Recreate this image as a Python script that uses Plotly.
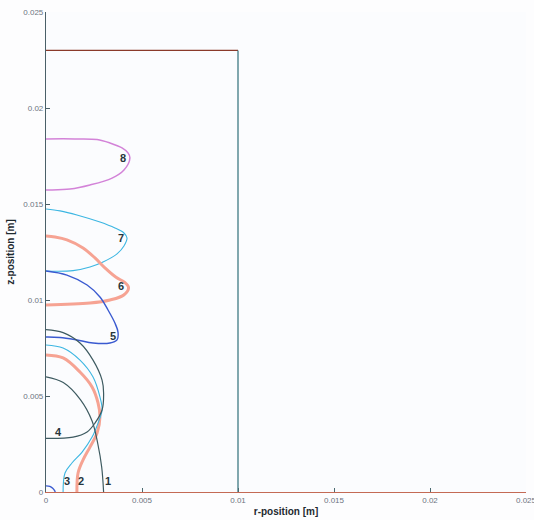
import plotly.graph_objects as go

# Container outline
box_r = [0, 0.01, 0.01]
box_z = [0.023, 0.023, 0]

# Interface curves (r, z) in metres
c1_r = [0, 0.0009, 0.0018, 0.0024, 0.0027, 0.0029, 0.0030]
c1_z = [0.0060, 0.0057, 0.0048, 0.0037, 0.0025, 0.0013, 0.0]

c2_r = [0, 0.00089, 0.00177, 0.0024, 0.00271, 0.00281, 0.00266, 0.00229, 0.00193, 0.00167, 0.00161]
c2_z = [0.00714, 0.00698, 0.00625, 0.00547, 0.00464, 0.00391, 0.00307, 0.00234, 0.00167, 0.00099, 0.0]

c3_r = [0, 0.00089, 0.00177, 0.00245, 0.00281, 0.00292, 0.00271, 0.0024, 0.00188, 0.00135, 0.00099, 0.00089]
c3_z = [0.00766, 0.0075, 0.00687, 0.00599, 0.00495, 0.00427, 0.00359, 0.00286, 0.00208, 0.00151, 0.00099, 0.0]

c4_r = [0, 0.00089, 0.00177, 0.00245, 0.00292, 0.0030, 0.00292, 0.00255, 0.00214, 0.00141, 0]
c4_z = [0.00846, 0.00830, 0.00776, 0.00687, 0.00583, 0.00516, 0.00427, 0.00359, 0.00313, 0.00286, 0.00279]

c5_r = [0, 0.00109, 0.00214, 0.00281, 0.00323, 0.00359, 0.00375, 0.0037, 0.00333, 0.00245, 0.00161, 0.00073, 0]
c5_z = [0.01151, 0.0113, 0.01078, 0.01016, 0.00948, 0.0088, 0.00833, 0.00792, 0.00776, 0.00776, 0.00792, 0.00805, 0.00807]

c6_r = [0, 0.00047, 0.00109, 0.00193, 0.00255, 0.00307, 0.00365, 0.00410, 0.00430, 0.00405, 0.00333, 0.00229, 0]
c6_z = [0.01333, 0.01328, 0.01313, 0.01271, 0.01219, 0.01167, 0.01118, 0.01092, 0.01065, 0.01026, 0.0100, 0.00984, 0.00974]

c7_r = [0, 0.00073, 0.00161, 0.00281, 0.00359, 0.00406, 0.00422, 0.00406, 0.0037, 0.00297, 0.00229, 0.00141, 0]
c7_z = [0.01474, 0.01464, 0.01443, 0.01406, 0.01375, 0.01349, 0.01323, 0.01281, 0.0124, 0.01198, 0.01172, 0.01153, 0.01151]

c8_r = [0, 0.0015, 0.00266, 0.00333, 0.00396, 0.00427, 0.00437, 0.00406, 0.00344, 0.00229, 0.00125, 0.0002, 0]
c8_z = [0.01839, 0.01839, 0.01836, 0.01818, 0.01792, 0.01766, 0.0174, 0.01677, 0.01635, 0.01599, 0.01578, 0.01573, 0.01573]

arc_r = [0, 0.0002, 0.00035, 0.00045, 0.00048]
arc_z = [0.00032, 0.00029, 0.00019, 0.00007, 0.0]

labels = ["1", "2", "3", "4", "5", "6", "7", "8"]
label_r = [0.00325, 0.00180, 0.00110, 0.00065, 0.00350, 0.00388, 0.00388, 0.00402]
label_z = [0.00055, 0.00055, 0.00055, 0.00315, 0.00813, 0.01073, 0.01323, 0.01740]

tick_vals = [0, 0.005, 0.01, 0.015, 0.02, 0.025]
tick_text = ["0", "0.005", "0.01", "0.015", "0.02", "0.025"]

dark = "#3d5a60"
salmon = "#f6a393"
lblue = "#3cb6e2"
blue = "#3a5ad0"
violet = "#d383d8"

fig = go.Figure()

def add(r, z, color, width):
    fig.add_trace(go.Scatter(x=r, y=z, mode="lines",
                             line=dict(color=color, width=width, shape="spline", smoothing=1.0),
                             hoverinfo="skip", showlegend=False))

# container
fig.add_trace(go.Scatter(x=box_r[:2], y=box_z[:2], mode="lines",
                         line=dict(color="#8a3a2a", width=1.2), showlegend=False, hoverinfo="skip"))
fig.add_trace(go.Scatter(x=box_r[1:], y=box_z[1:], mode="lines",
                         line=dict(color="#2f6e78", width=1.2), showlegend=False, hoverinfo="skip"))

add(c8_r, c8_z, violet, 1.5)
add(c7_r, c7_z, lblue, 1.1)
add(c6_r, c6_z, salmon, 3)
add(c5_r, c5_z, blue, 1.4)
add(c2_r, c2_z, salmon, 3)
add(c3_r, c3_z, lblue, 1.1)
add(c4_r, c4_z, dark, 1.2)
add(c1_r, c1_z, dark, 1.2)
add(arc_r, arc_z, blue, 1.4)

for t, r, z in zip(labels, label_r, label_z):
    fig.add_annotation(x=r, y=z, text="<b>%s</b>" % t, showarrow=False,
                       font=dict(family="Liberation Sans, Arial", size=11, color="#27363c"))

axis_common = dict(range=[0, 0.025], tickvals=tick_vals, ticktext=tick_text,
                   ticks="inside", ticklen=4, tickwidth=1,
                   showgrid=False, zeroline=False, showline=True, linewidth=1.2,
                   tickfont=dict(family="Liberation Sans, Arial", size=8, color="#6c7480"),
                   ticklabeloverflow="allow", automargin=False)

fig.update_layout(
    width=534, height=520,
    margin=dict(l=46, r=8, t=12, b=28),
    paper_bgcolor="#fdfdfe", plot_bgcolor="#fbfcfe",
    xaxis=dict(**axis_common, linecolor="#c46a55", tickcolor="#4a6a70",
               title=dict(text="<b>r-position [m]</b>", standoff=4,
                          font=dict(family="Liberation Sans, Arial", size=10, color="#1e2a30"))),
    yaxis=dict(**axis_common, linecolor="#4a6068", tickcolor="#4a6068",
               title=dict(text="<b>z-position [m]</b>", standoff=6,
                          font=dict(family="Liberation Sans, Arial", size=10, color="#1e2a30"))),
)

fig.write_html("out.html", config={"displayModeBar": False},
               post_script="document.body.style.margin='0';document.body.style.overflow='hidden';")
